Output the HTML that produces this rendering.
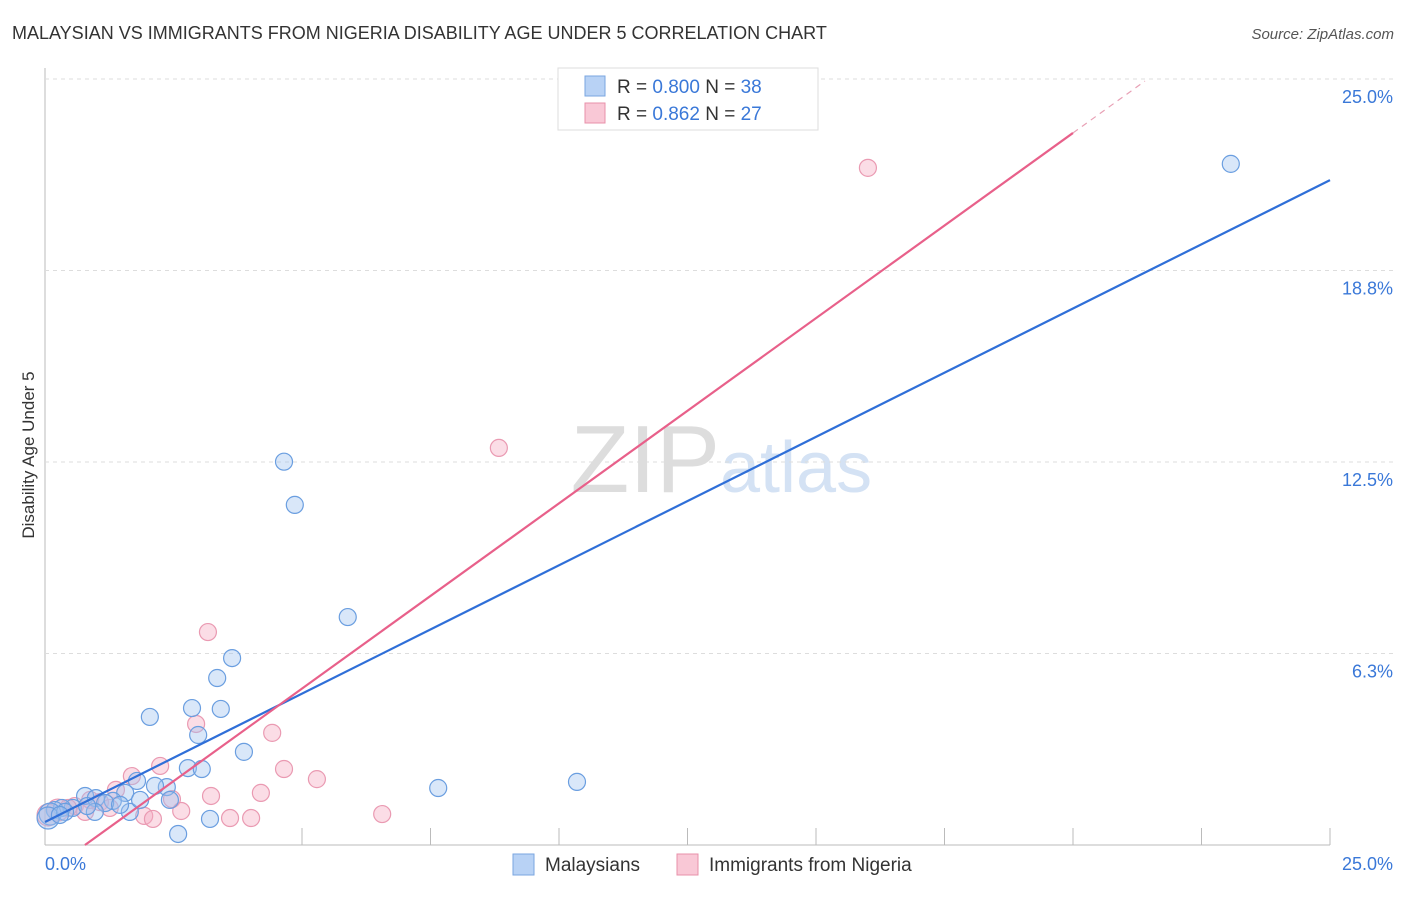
<!DOCTYPE html>
<html><head><meta charset="utf-8"><style>
body{margin:0;background:#fff;font-family:"Liberation Sans",sans-serif}
svg text{font-family:"Liberation Sans",sans-serif}
</style></head><body>
<svg id="c" width="1406" height="892">
<text x="12" y="39" font-size="18" fill="#333">MALAYSIAN VS IMMIGRANTS FROM NIGERIA DISABILITY AGE UNDER 5 CORRELATION CHART</text>
<text x="1394" y="39" font-size="15" fill="#555" font-style="italic" text-anchor="end">Source: ZipAtlas.com</text>
<text x="34" y="455" font-size="17" fill="#333" text-anchor="middle" transform="rotate(-90 34 455)">Disability Age Under 5</text>
<text x="720" y="492" font-size="96" fill="#ddd" text-anchor="end" font-family="Liberation Serif">ZIP</text>
<text x="720" y="492" font-size="72" fill="#d4e2f4">atlas</text>
<g id="grid"></g><g id="pts"></g><g id="lines"></g>
<g>
<rect x="558" y="68" width="260" height="62" fill="#fff" stroke="#ddd"/>
<rect x="585" y="76" width="20" height="20" fill="#b8d2f5" stroke="#7aa6e0"/>
<text x="617" y="93" font-size="19" fill="#333">R = <tspan fill="#3a78d8">0.800</tspan>   N = <tspan fill="#3a78d8">38</tspan></text>
<rect x="585" y="103" width="20" height="20" fill="#f9c8d6" stroke="#e890aa"/>
<text x="617" y="120" font-size="19" fill="#333">R =  <tspan fill="#3a78d8">0.862</tspan>   N = <tspan fill="#3a78d8">27</tspan></text>
</g>
<g>
<rect x="513" y="854" width="21" height="21" fill="#b8d2f5" stroke="#7aa6e0"/>
<text x="545" y="871" font-size="19" fill="#333">Malaysians</text>
<rect x="677" y="854" width="21" height="21" fill="#f9c8d6" stroke="#e890aa"/>
<text x="709" y="871" font-size="19" fill="#333">Immigrants from Nigeria</text>
</g>
</svg>
<script>
const yTicks=[6.25,12.5,18.75,25];
const yTickLabels=["6.3%","12.5%","18.8%","25.0%"];
const xTickVals=[5,7.5,10,12.5,15,17.5,20,22.5,25];
const blueX=[23.07,4.65,4.86,5.89,3.64,3.35,3.42,2.86,2.04,2.98,3.87,2.78,3.05,10.35,7.65,1.79,2.37,2.14,1.56,0.78,0.99,1.32,1.17,1.65,1.46,0.54,0.33,0.19,0.10,0.06,0.39,0.97,3.21,2.59,0.82,1.85,2.43,0.29];
const blueY=[22.23,12.51,11.10,7.44,6.10,5.45,4.44,4.47,4.18,3.59,3.04,2.51,2.48,2.06,1.86,2.09,1.89,1.93,1.70,1.60,1.53,1.44,1.37,1.08,1.31,1.21,1.21,1.14,1.01,0.88,1.08,1.08,0.85,0.36,1.27,1.47,1.47,0.98];
const pinkX=[16.01,8.83,3.17,2.94,4.42,4.65,5.29,2.24,1.69,1.38,4.20,3.23,2.47,2.65,1.93,2.10,3.60,4.01,6.56,1.07,0.58,0.78,0.25,0.06,0.45,1.26,0.88];
const pinkY=[22.10,12.96,6.95,3.95,3.66,2.48,2.15,2.58,2.25,1.80,1.70,1.60,1.50,1.11,0.95,0.85,0.88,0.88,1.01,1.40,1.27,1.08,1.14,0.98,1.21,1.21,1.47];
const blueFit=[0.75,0.838];
const pinkFit=[-0.94,1.209];
const NS="http://www.w3.org/2000/svg";
const X=v=>45+v*1285/25, Y=v=>845-v*766/25;
function mk(t,a,p){const e=document.createElementNS(NS,t);for(const k in a)e.setAttribute(k,a[k]);p.appendChild(e);return e;}
const g=document.getElementById('grid');
let ax=mk('line',{x1:45,y1:68,x2:45,y2:845,stroke:'#bbb'},g);


let bx=mk('line',{x1:45,y1:845,x2:1330,y2:845,stroke:'#bbb'},g);


yTicks.forEach((v,i)=>{
 const l=mk('line',{x1:45,x2:1395,y1:Y(v),y2:Y(v),stroke:'#ddd','stroke-dasharray':'4 4'},g);
 
 
 const t=mk('text',{x:1393,y:Y(v)+24,'font-size':18,fill:'#3a78d8','text-anchor':'end'},g);
 t.textContent=yTickLabels[i];
 
 
});
xTickVals.forEach(v=>{
 const l=mk('line',{x1:X(v),x2:X(v),y1:828,y2:845,stroke:'#bbb'},g);
 
 
});
let t0=mk('text',{x:45,y:870,'font-size':18,fill:'#3a78d8'},g);t0.textContent='0.0%';


let t1=mk('text',{x:1393,y:870,'font-size':18,fill:'#3a78d8','text-anchor':'end'},g);t1.textContent='25.0%';


const P=document.getElementById('pts');
pinkX.forEach((x,i)=>{
 const c=mk('circle',{cx:X(x),cy:Y(pinkY[i]),r:x<0.3?11:8.5,fill:'rgba(246,170,192,0.4)',stroke:'#ea9ab2','stroke-width':1.2},P);
 
 
});
blueX.forEach((x,i)=>{
 const c=mk('circle',{cx:X(x),cy:Y(blueY[i]),r:x<0.15?11:8.5,fill:'rgba(160,195,240,0.4)',stroke:'#6a9ee0','stroke-width':1.2},P);
 
 
});
const L=document.getElementById('lines');
let bl=mk('line',{x1:X(0),y1:Y(blueFit[0]),x2:X(25),y2:Y(blueFit[0]+blueFit[1]*25),stroke:'#2f6fd8','stroke-width':2.2},L);


const px0=-pinkFit[0]/pinkFit[1];
let pl=mk('line',{x1:X(px0),y1:Y(0),x2:X(20),y2:Y(pinkFit[0]+pinkFit[1]*20),stroke:'#e8608a','stroke-width':2.2},L);


let pd=mk('line',{x1:X(20),y1:Y(pinkFit[0]+pinkFit[1]*20),x2:X(21.4),y2:Y(pinkFit[0]+pinkFit[1]*21.4),stroke:'#e8a0b5','stroke-width':1.2,'stroke-dasharray':'6 5'},L);


</script>
</body></html>
